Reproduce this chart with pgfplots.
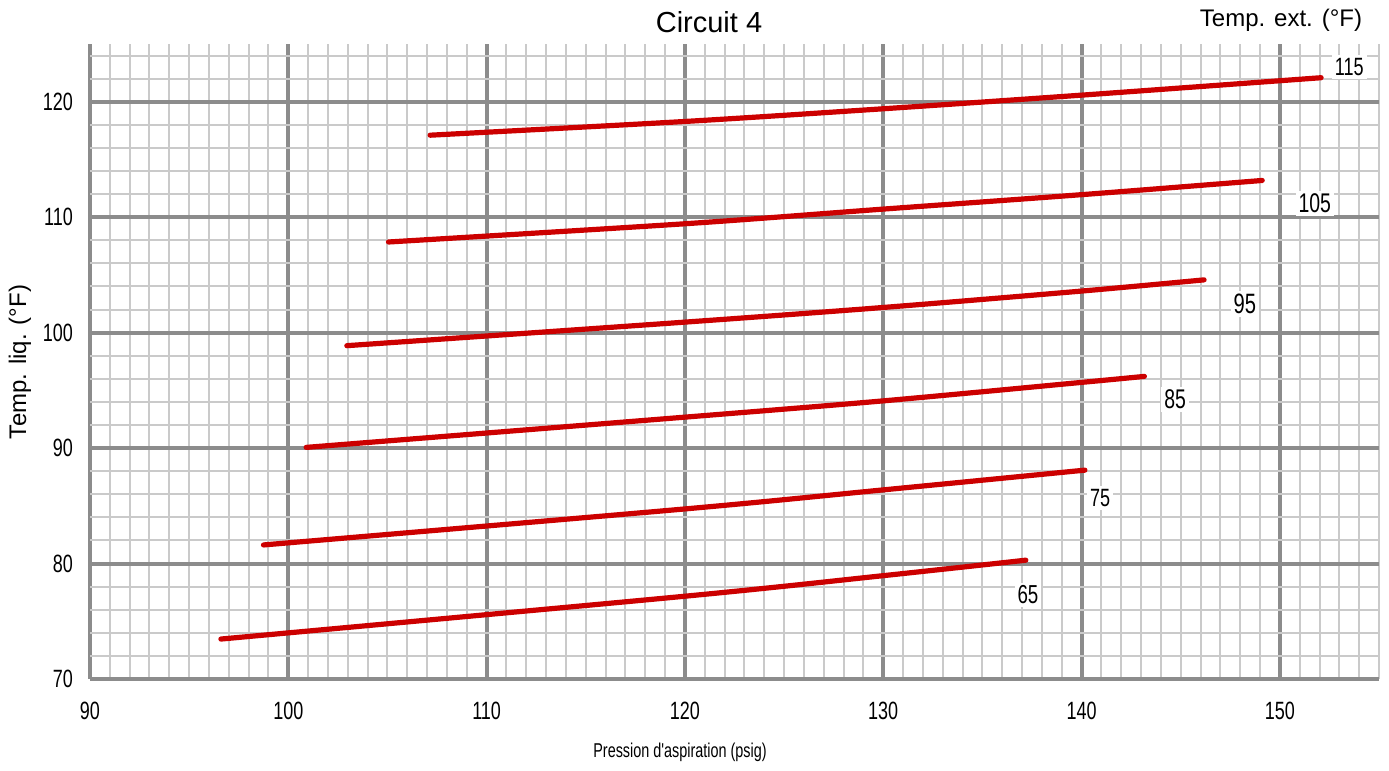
\documentclass[border=0pt]{standalone}
\usepackage{fontspec}
\setmainfont{Liberation Sans}
\newfontfamily\narrowfont[FakeStretch=0.72]{Liberation Sans}
\usepackage{pgfplots}
\pgfplotsset{compat=1.18}
\definecolor{gmaj}{HTML}{8C8C8C}
\definecolor{gmin}{HTML}{CACACA}
\definecolor{cred}{HTML}{CC0000}
\begin{document}
\begin{tikzpicture}
\useasboundingbox (-45pt,-46pt) rectangle (649.5pt,339.5pt);
\begin{axis}[
  at={(0,0)}, anchor=south west,
  width=644.5pt, height=317.5pt, scale only axis,
  xmin=90, xmax=155, ymin=70, ymax=125,
  xtick={90,100,...,150}, ytick={70,80,...,120},
  minor xtick={90,91,...,155},
  minor ytick={70,72,...,124},
  grid=both,
  minor grid style={draw=gmin, line width=1pt},
  major grid style={draw=gmaj, line width=2pt},
  major tick length=0pt, minor tick length=0pt,
  axis line style={draw=none},
  /pgf/number format/assume math mode=true,
  xticklabel style={font=\narrowfont\fontsize{12.5}{14}\selectfont, yshift=-8pt},
  yticklabel style={font=\narrowfont\fontsize{12.5}{14}\selectfont, xshift=-5pt},
  clip=false,
]
\pgfplotsset{curve/.style={draw=cred, line width=2.6pt, line cap=round, smooth, mark=none}}
\addplot[curve] coordinates {(107.15,117.1) (120,118.29) (130,119.39) (140,120.57) (152.08,122.08)};
\addplot[curve] coordinates {(105.05,107.85) (120,109.43) (130,110.70) (140,111.95) (149.11,113.18)};
\addplot[curve] coordinates {(102.95,98.87) (120,100.91) (130,102.18) (140,103.6) (146.18,104.57)};
\addplot[curve] coordinates {(100.9,90.06) (120,92.68) (130,94.09) (140,95.69) (143.17,96.21)};
\addplot[curve] coordinates {(98.75,81.61) (120,84.73) (130,86.38) (140.17,88.09)};
\addplot[curve] coordinates {(96.6,73.46) (120,77.17) (130,78.95) (137.19,80.29)};
\begin{scope}[every node/.style={fill=white, inner sep=1.5pt, font=\narrowfont\fontsize{12.5}{14}\selectfont}]
\node at (axis cs:153.5,123.0) {115};
\node[font=\narrowfont\fontsize{13.5}{15}\selectfont] at (axis cs:151.76,111.18) {105};
\node[font=\narrowfont\fontsize{14}{16}\selectfont] at (axis cs:148.24,102.46) {95};
\node[font=\narrowfont\fontsize{13.5}{15}\selectfont] at (axis cs:144.72,94.22) {85};
\node at (axis cs:140.94,85.66) {75};
\node[font=\narrowfont\fontsize{13}{15}\selectfont] at (axis cs:137.3,77.28) {65};
\end{scope}
\end{axis}
\node[font=\fontsize{14.5}{16}\selectfont] at (309.5pt,328.5pt) {Circuit 4};
\node[font=\fontsize{12}{14}\selectfont] at (595.5pt,329.5pt) {Temp. ext. (°F)};
\node[font=\fontsize{12}{14}\selectfont, rotate=90] at (-35pt,158.5pt) {Temp. liq. (°F)};
\node[font=\narrowfont\fontsize{10}{12}\selectfont] at (295pt,-36.5pt) {Pression d'aspiration (psig)};
\end{tikzpicture}
\end{document}
